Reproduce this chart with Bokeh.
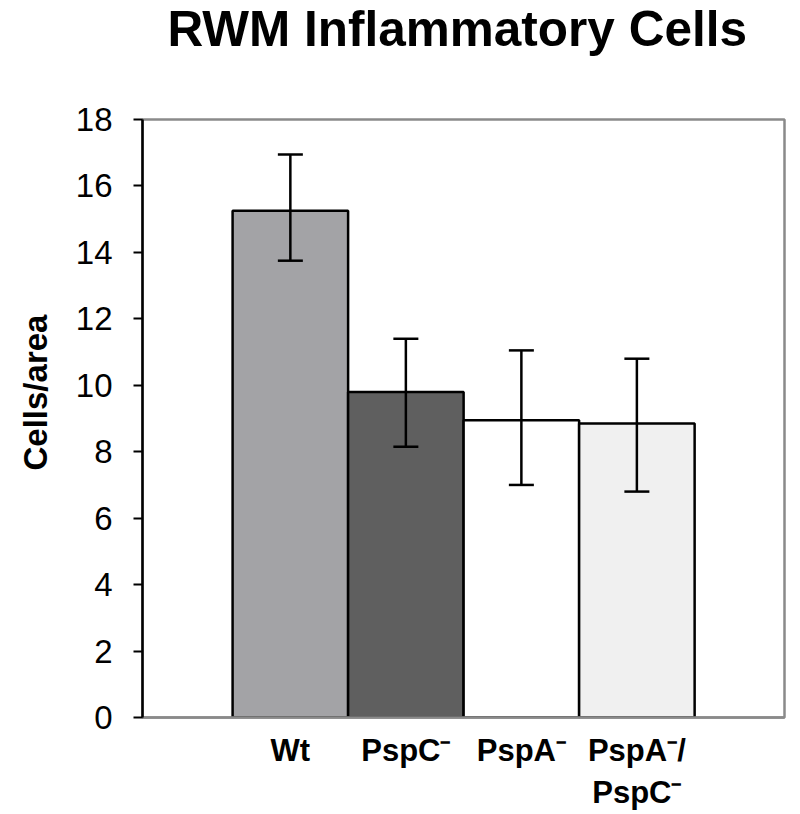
import math
from bokeh.plotting import figure
from bokeh.models import ColumnDataSource, FixedTicker, Range1d, Whisker, TeeHead, Title
from bokeh.embed import file_html
from bokeh.resources import INLINE

# ---- data ----
title_text = "RWM Inflammatory Cells"
y_label = "Cells/area"
categories = ["Wt", "PspC\u207b", "PspA\u207b", "PspA\u207b/\nPspC\u207b"]
means = [15.25, 9.8, 8.95, 8.85]
upper = [16.95, 11.4, 11.05, 10.8]
lower = [13.75, 8.15, 7.0, 6.8]
colors = ["#a3a3a6", "#5f5f5f", "#ffffff", "#f0f0f0"]
y_ticks = [0, 2, 4, 6, 8, 10, 12, 14, 16, 18]

xs = list(range(1, len(categories) + 1))
src = ColumnDataSource(dict(x=xs, top=means, upper=upper, lower=lower, color=colors))

FONT = "Liberation Sans"

p = figure(width=792, height=813, output_backend="svg", toolbar_location=None,
           x_range=Range1d(-0.28, 5.278), y_range=Range1d(0, 18),
           min_border_left=142, min_border_right=8, min_border_top=119,
           min_border_bottom=96)

p.title.text = title_text + "\n"
p.title.text_font = FONT
p.title.text_font_size = "49.5px"
p.title.text_font_style = "bold"
p.title.text_color = "black"
p.title.text_line_height = 1.12
p.title.align = "left"
p.title.offset = 25
p.title.vertical_align = "top"
p.title.standoff = 0

p.vbar(x="x", top="top", bottom=0, width=1.0, source=src, fill_color="color",
       line_color="black", line_width=2.5)

w = Whisker(base="x", upper="upper", lower="lower", source=src,
            line_color="black", line_width=2.5, level="overlay",
            upper_head=TeeHead(size=25, line_width=2.5, line_color="black"),
            lower_head=TeeHead(size=25, line_width=2.5, line_color="black"))
p.add_layout(w)

p.grid.visible = False
p.background_fill_color = "white"
p.border_fill_color = "white"
p.outline_line_color = "#8a8a8a"
p.outline_line_width = 2.5

# y axis
ya = p.yaxis[0]
ya.ticker = FixedTicker(ticks=y_ticks)
ya.axis_line_color = "black"
ya.axis_line_width = 2.5
ya.major_tick_line_color = "black"
ya.major_tick_line_width = 2
ya.major_tick_out = 9
ya.major_tick_in = 0
ya.minor_tick_line_color = None
ya.major_label_text_font = FONT
ya.major_label_text_font_size = "33px"
ya.major_label_text_color = "black"
ya.major_label_standoff = 21

ylab = Title(text=y_label, align="left", offset=247, standoff=33,
             vertical_align="top", text_font=FONT, text_font_size="33px",
             text_font_style="bold", text_color="black")
p.add_layout(ylab, "left")

# x axis
xa = p.xaxis[0]
xa.ticker = FixedTicker(ticks=xs)
xa.major_label_overrides = {x: c for x, c in zip(xs, categories)}
xa.axis_line_color = "#8a8a8a"
xa.axis_line_width = 2.5
xa.major_tick_line_color = None
xa.minor_tick_line_color = None
xa.major_label_text_font = FONT
xa.major_label_text_font_size = "31px"
xa.major_label_text_font_style = "bold"
xa.major_label_text_color = "black"
xa.major_label_standoff = 9

open("out.html", "w").write(file_html(p, INLINE))
